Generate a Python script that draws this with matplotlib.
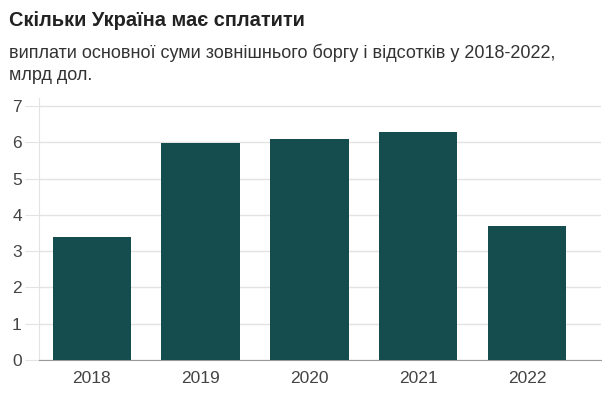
import matplotlib.pyplot as plt
import numpy as np

plt.rcParams['font.family'] = ['Liberation Sans', 'DejaVu Sans']

years = ['2018', '2019', '2020', '2021', '2022']
payments = [3.38, 5.99, 6.09, 6.29, 3.68]
y_ticks = [0, 1, 2, 3, 4, 5, 6, 7]

fig = plt.figure(figsize=(6.02, 3.99), dpi=100)
ax = fig.add_axes([38.5 / 602, 39 / 399, (601 - 38.5) / 602, (301 - 39) / 399])

x = np.arange(len(years))
ax.bar(x, payments, width=0.72, color='#154d4f', zorder=3)

ax.set_xlim(-0.49, 4.68)
ax.set_ylim(0, 7.22)
ax.set_yticks(y_ticks)
ax.set_xticks(x)
ax.set_xticklabels(years)
ax.grid(axis='y', color='#e3e3e3', linewidth=1, zorder=0)

for s in ['top', 'right']:
    ax.spines[s].set_visible(False)
ax.spines['left'].set_color('#e3e3e3')
ax.spines['bottom'].set_color('#999999')
ax.tick_params(axis='y', length=10, color='#e3e3e3', labelsize=12.5, labelcolor='#444444', pad=2)
ax.tick_params(axis='x', length=0, labelsize=12.5, labelcolor='#444444', pad=8)

fig.text(9, 399 - 20, 'Скільки Україна має сплатити', fontsize=14.4, fontweight='bold',
         color='#222222', va='center', transform=None)
fig.text(9, 399 - 53, 'виплати основної суми зовнішнього боргу і відсотків у 2018-2022,',
         fontsize=13, color='#333333', va='center', transform=None)
fig.text(9, 399 - 75, 'млрд дол.', fontsize=13, color='#333333', va='center', transform=None)

fig.savefig('out.png', dpi=100)
